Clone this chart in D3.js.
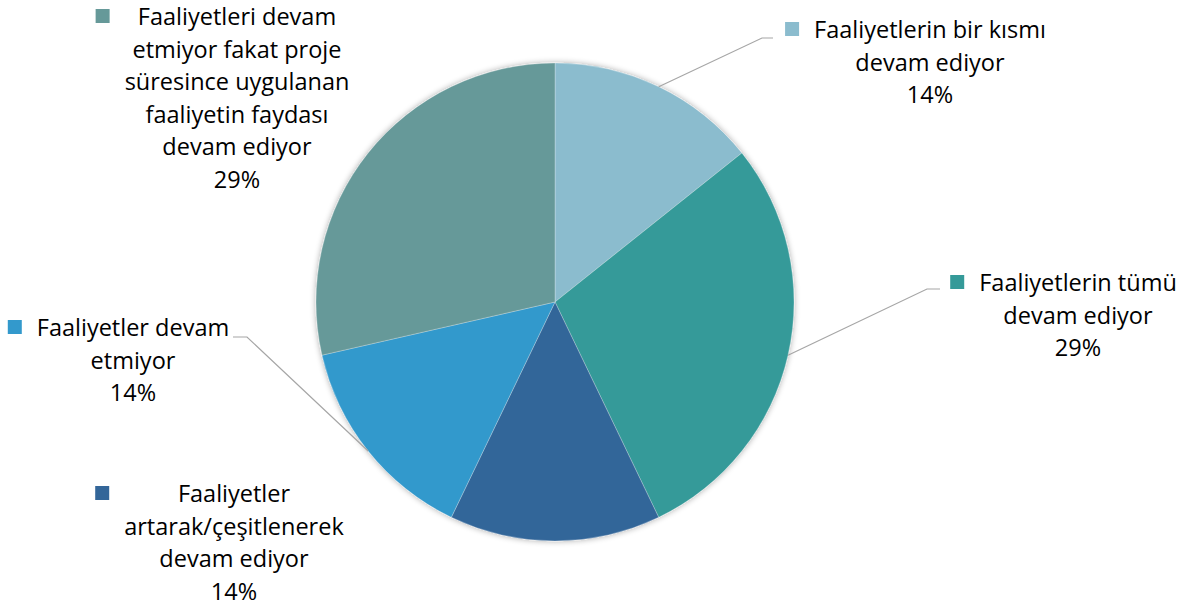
<!DOCTYPE html>
<html>
<head>
<meta charset="utf-8">
<script src="https://cdnjs.cloudflare.com/ajax/libs/d3/7.8.5/d3.min.js"></script>
<style>
  body { margin: 0; background: #fff; }
  svg { display: block; }
  text { font-family: "Open Sans", Lato, sans-serif; fill: #000; }
</style>
</head>
<body>
<svg></svg>
<script>
// chart data
var categories = [
  "Faaliyetlerin bir kısmı devam ediyor",
  "Faaliyetlerin tümü devam ediyor",
  "Faaliyetler artarak/çeşitlenerek devam ediyor",
  "Faaliyetler devam etmiyor",
  "Faaliyetleri devam etmiyor fakat proje süresince uygulanan faaliyetin faydası devam ediyor"
];
var values = [1, 2, 1, 1, 2];
var labelLines = [
  ["Faaliyetlerin bir kısmı", "devam ediyor"],
  ["Faaliyetlerin tümü", "devam ediyor"],
  ["Faaliyetler", "artarak/çeşitlenerek", "devam ediyor"],
  ["Faaliyetler devam", "etmiyor"],
  ["Faaliyetleri devam", "etmiyor fakat proje", "süresince uygulanan", "faaliyetin faydası", "devam ediyor"]
];
var colorList = ["#8BBCCE", "#359A99", "#336699", "#3399CC", "#669999"];

// label layout (centre x, first baseline, leader elbow)
var labelPos = [
  {cx: 930, y: 38, elbow: [762, 38], end: 773},
  {cx: 1078, y: 291, elbow: [927, 289], end: 940},
  {cx: 234, y: 502, elbow: null},
  {cx: 133, y: 336, elbow: [247, 337], end: 233},
  {cx: 237, y: 25, elbow: null}
];

var screen = {width: 1194, height: 608};
var svg = d3.select("svg")
            .attr("width", screen.width)
            .attr("height", screen.height);

var cx = 555, cy = 302, radius = 239;
var lineH = 32.5;

var defs = svg.append("defs");
var shadow = defs.append("filter").attr("id", "shadow")
                 .attr("x", "-10%").attr("y", "-10%")
                 .attr("width", "120%").attr("height", "120%");
shadow.append("feGaussianBlur").attr("in", "SourceAlpha").attr("stdDeviation", 3);
shadow.append("feOffset").attr("dx", 0).attr("dy", 0).attr("result", "blur");
shadow.append("feComponentTransfer").append("feFuncA").attr("type", "linear").attr("slope", 0.35);
var merge = shadow.append("feMerge");
merge.append("feMergeNode");
merge.append("feMergeNode").attr("in", "SourceGraphic");

var color = d3.scaleOrdinal().domain(categories).range(colorList);
var total = d3.sum(values);
var pct = d3.format(".0%");

var pie = d3.pie().sort(null).value(function(d) { return d; });
var arcs = pie(values);
var arc = d3.arc().innerRadius(0).outerRadius(radius);

var plot = svg.append("g")
              .attr("transform", "translate(" + cx + "," + cy + ")");

plot.append("g")
    .attr("filter", "url(#shadow)")
    .selectAll("path")
    .data(arcs)
    .enter()
    .append("path")
    .attr("d", arc)
    .attr("fill", function(d, i) { return color(categories[i]); })
    .attr("stroke", "rgba(255,255,255,0.35)")
    .attr("stroke-width", 0.75);

// leader lines
arcs.forEach(function(d, i) {
  var p = labelPos[i];
  if (!p.elbow) return;
  var mid = (d.startAngle + d.endAngle) / 2;
  var ex = cx + Math.sin(mid) * radius;
  var ey = cy - Math.cos(mid) * radius;
  svg.append("polyline")
     .attr("points", [[ex, ey], p.elbow, [p.end, p.elbow[1]]].map(function(q) { return q.join(","); }).join(" "))
     .attr("fill", "none")
     .attr("stroke", "#A6A6A6")
     .attr("stroke-width", 1.2);
});

// labels
var labels = svg.selectAll("g.label")
                .data(arcs)
                .enter()
                .append("g")
                .classed("label", true);

labels.each(function(d, i) {
  var g = d3.select(this);
  var p = labelPos[i];
  var lines = labelLines[i].concat([pct(d.value / total)]);
  var texts = g.selectAll("text")
               .data(lines)
               .enter()
               .append("text")
               .attr("x", p.cx)
               .attr("y", function(t, j) { return p.y + j * lineH; })
               .attr("text-anchor", "middle")
               .style("font-size", "23.5px")
               .text(function(t) { return t; });
  var left = d3.min(texts.nodes(), function(n) { return p.cx - n.getComputedTextLength() / 2; });
  g.append("rect")
   .attr("x", left - 29)
   .attr("y", p.y - 16)
   .attr("width", 14)
   .attr("height", 14)
   .attr("fill", color(categories[i]));
});
</script>
</body>
</html>
